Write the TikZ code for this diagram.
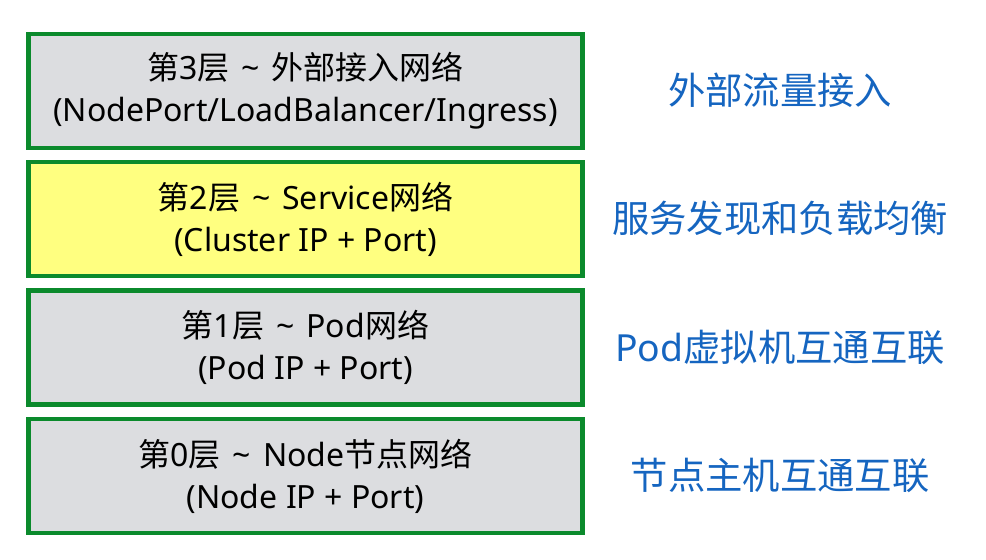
\documentclass[tikz,border=0pt]{standalone}
\usepackage{fontspec}
\setmainfont{Noto Sans}
\newfontfamily\cjk{Noto Sans CJK SC}
\definecolor{layergreen}{HTML}{0B8A2C}
\definecolor{layergray}{HTML}{DCDDE0}
\definecolor{layeryellow}{HTML}{FFFF80}
\definecolor{descblue}{HTML}{1565C0}
\newcommand{\wave}{\hspace{9pt}\string~\hspace{9pt}}
\begin{document}
\begin{tikzpicture}[x=0.75pt, y=-0.75pt,
    layer/.style={draw=layergreen, line width=3.4pt, fill=layergray, minimum width=415.5pt, minimum height=85.5pt, align=center, font=\fontsize{24}{31.5}\selectfont},
    desc/.style={text=descblue, font=\fontsize{28}{34}\selectfont}]
    \useasboundingbox (0,0) rectangle (986,560);

    % 各層のボックス
    \node[layer] (L3) at (305.5, 91) {{\cjk 第}3{\cjk 层}\wave{\cjk 外部接入网络}\\(NodePort/LoadBalancer/Ingress)};
    \node[layer, fill=layeryellow] (L2) at (305.5, 219) {{\cjk 第}2{\cjk 层}\wave Service{\cjk 网络}\\(Cluster IP + Port)};
    \node[layer] (L1) at (305.5, 347.5) {{\cjk 第}1{\cjk 层}\wave Pod{\cjk 网络}\\(Pod IP + Port)};
    \node[layer] (L0) at (305.5, 476) {{\cjk 第}0{\cjk 层}\wave Node{\cjk 节点网络}\\(Node IP + Port)};

    % 右側の説明
    \node[desc] (D3) at (780, 90.5) {\cjk 外部流量接入};
    \node[desc] (D2) at (780, 218.5) {\cjk 服务发现和负载均衡};
    \node[desc] (D1) at (780, 347) {Pod{\cjk 虚拟机互通互联}};
    \node[desc] (D0) at (780, 475.5) {\cjk 节点主机互通互联};
\end{tikzpicture}
\end{document}
